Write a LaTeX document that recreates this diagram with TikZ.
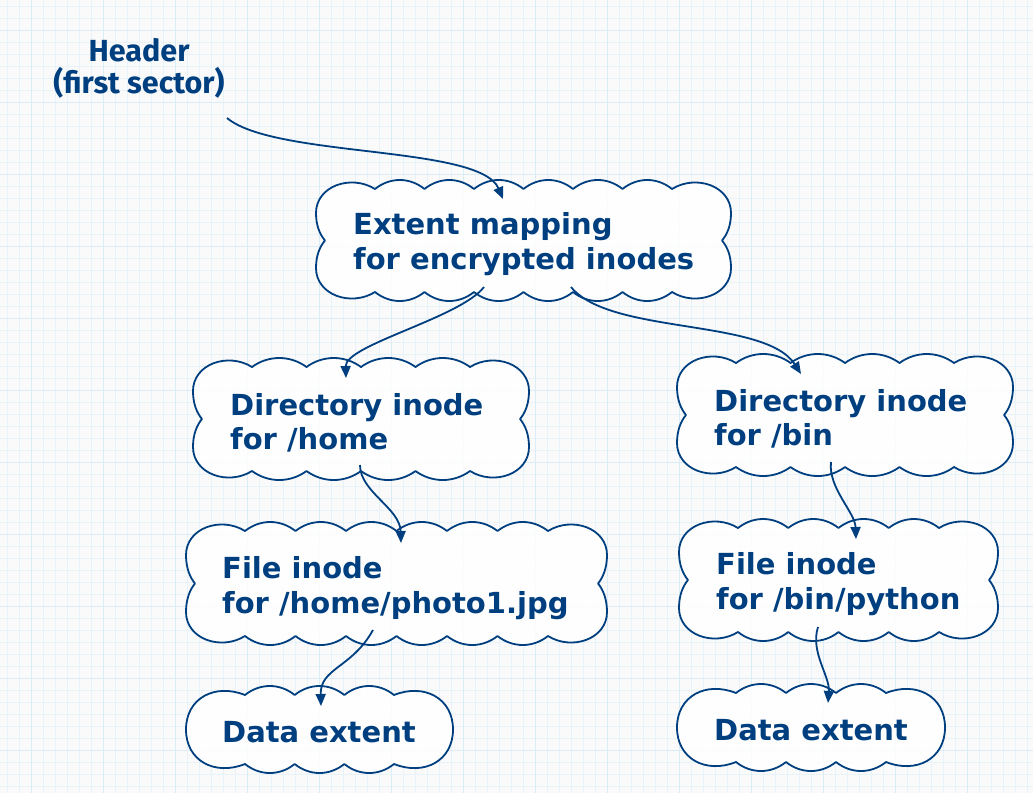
\documentclass[tikz,border=0pt]{standalone}
\usepackage{fontspec}
\newfontfamily\boxfont{DejaVu Sans}
\newfontfamily\headfont{Fira Sans}
\usetikzlibrary{arrows.meta}
\definecolor{ink}{HTML}{003F7F}
\definecolor{bgc}{HTML}{FAFAFA}
\definecolor{gridminor}{HTML}{E8F3F9}
\definecolor{gridmajor}{HTML}{DAEDF6}
\tikzset{
  cloudline/.style={draw=ink, line width=1.8pt, fill=white, fill opacity=0.85, line join=round},
  boxtext/.style={font=\boxfont\bfseries\fontsize{29}{34.5}\selectfont, text=ink, align=left, inner sep=0pt, anchor=west},
  headtext/.style={font=\headfont\bfseries\fontsize{30.5}{32}\selectfont, text=ink, align=center, inner sep=0pt},
  conn/.style={draw=ink, line width=1.8pt, -{Triangle[length=12pt,width=10pt]}}
}
\newcommand\cloudshape[5]{%
  \pgfmathsetmacro\cL{#1}\pgfmathsetmacro\cT{#2}%
  \pgfmathsetmacro\cR{#3}\pgfmathsetmacro\cB{#4}%
  \pgfmathsetmacro\cW{59}%
  \pgfmathsetmacro\cS{(\cR-\cL-2*\cW)/#5}%
  \pgfmathsetmacro\cM{(\cT+\cB)/2}%
  \pgfmathsetmacro\cH{\cB-\cT}%
  \ifdim\cH pt>100pt
  \path[cloudline] ({\cL+\cW},{\cT+9})
    \foreach \i in {1,...,#5} { .. controls ({\cL+\cW+(\i-0.7)*\cS},{\cT-3}) and ({\cL+\cW+(\i-0.3)*\cS},{\cT-3}) .. ({\cL+\cW+\i*\cS},{\cT+9}) }
    .. controls ({\cR-\cW+24},{\cT-6}) and ({\cR},{\cT+6}) .. ({\cR},{\cT+33})
    .. controls ({\cR},{\cT+46}) and ({\cR-4},{\cM-6}) .. ({\cR-9},{\cM})
    .. controls ({\cR-4},{\cM+6}) and ({\cR},{\cB-46}) .. ({\cR},{\cB-33})
    .. controls ({\cR},{\cB-6}) and ({\cR-\cW+24},{\cB+6}) .. ({\cR-\cW},{\cB-9})
    \foreach \i in {1,...,#5} { .. controls ({\cR-\cW-(\i-0.7)*\cS},{\cB+3}) and ({\cR-\cW-(\i-0.3)*\cS},{\cB+3}) .. ({\cR-\cW-\i*\cS},{\cB-9}) }
    .. controls ({\cL+\cW-24},{\cB+6}) and ({\cL},{\cB-6}) .. ({\cL},{\cB-33})
    .. controls ({\cL},{\cB-46}) and ({\cL+4},{\cM+6}) .. ({\cL+9},{\cM})
    .. controls ({\cL+4},{\cM-6}) and ({\cL},{\cT+46}) .. ({\cL},{\cT+33})
    .. controls ({\cL},{\cT+6}) and ({\cL+\cW-24},{\cT-6}) .. cycle;
  \else
  \path[cloudline] ({\cL+\cW},{\cT+9})
    \foreach \i in {1,...,#5} { .. controls ({\cL+\cW+(\i-0.7)*\cS},{\cT-3}) and ({\cL+\cW+(\i-0.3)*\cS},{\cT-3}) .. ({\cL+\cW+\i*\cS},{\cT+9}) }
    .. controls ({\cR-\cW+30},{\cT-3}) and ({\cR},{\cT+12}) .. ({\cR},{\cM})
    .. controls ({\cR},{\cB-12}) and ({\cR-\cW+30},{\cB+3}) .. ({\cR-\cW},{\cB-9})
    \foreach \i in {1,...,#5} { .. controls ({\cR-\cW-(\i-0.7)*\cS},{\cB+3}) and ({\cR-\cW-(\i-0.3)*\cS},{\cB+3}) .. ({\cR-\cW-\i*\cS},{\cB-9}) }
    .. controls ({\cL+\cW-30},{\cB+3}) and ({\cL},{\cB-12}) .. ({\cL},{\cM})
    .. controls ({\cL},{\cT+12}) and ({\cL+\cW-30},{\cT-3}) .. cycle;
  \fi
}
\begin{document}
\begin{tikzpicture}[x=1pt,y=-1pt]
\useasboundingbox (0,0) rectangle (1033,793);
\fill[bgc] (0,0) rectangle (1033,793);
\foreach \x in {7,19,...,1033} \draw[gridminor, line width=0.7pt] (\x,0) -- (\x,793);
\foreach \y in {6,18,...,793} \draw[gridminor, line width=0.7pt] (0,\y) -- (1033,\y);
\foreach \x in {31,103,...,1033} \draw[gridmajor, line width=1pt] (\x,0) -- (\x,793);
\foreach \y in {30,102,...,793} \draw[gridmajor, line width=1pt] (0,\y) -- (1033,\y);

% clouds
\cloudshape{316}{180}{731}{301}{6}
\cloudshape{193}{358}{529}{480}{4}
\cloudshape{677}{354}{1013}{476}{4}
\cloudshape{186}{522}{607}{645}{6}
\cloudshape{679}{519}{998}{641}{4}
\cloudshape{186}{686}{453}{773}{3}
\cloudshape{677}{684}{945}{771}{3}

% texts
\node[headtext] (hdr) at (139,68) {Header\\(first sector)};
\node[boxtext] (ext) at (353,244) {Extent mapping\\for encrypted inodes};
\node[boxtext] (home) at (230,423) {Directory inode\\for /home};
\node[boxtext] (bin) at (714,419) {Directory inode\\for /bin};
\node[boxtext] (photo) at (222,588) {File inode\\for /home/photo1.jpg};
\node[boxtext] (python) at (716,584) {File inode\\for /bin/python};
\node[boxtext] (data1) at (222,732) {Data extent};
\node[boxtext] (data2) at (714,730) {Data extent};

% connector ends
\coordinate (hdrOut) at (227,118);
\coordinate (extIn) at (503,199);
\coordinate (extOutL) at (484,287);
\coordinate (homeIn) at (346,378);
\coordinate (extOutR) at (571,287);
\coordinate (binIn) at (801,374);
\coordinate (homeOut) at (360,465);
\coordinate (photoIn) at (401,543);
\coordinate (binOut) at (831,462);
\coordinate (pythonIn) at (856,539);
\coordinate (photoOut) at (373,630);
\coordinate (data1In) at (321,706);
\coordinate (pythonOut) at (818,627);
\coordinate (data2In) at (828,703);

\draw[conn] (hdrOut) .. controls (275,158) and (480,145) .. (extIn);
\draw[conn] (extOutL) .. controls (460,318) and (345,345) .. (homeIn);
\draw[conn] (extOutR) .. controls (610,335) and (765,318) .. (binIn);
\draw[conn] (homeOut) .. controls (360,492) and (400,508) .. (photoIn);
\draw[conn] (binOut) .. controls (828,488) and (855,512) .. (pythonIn);
\draw[conn] (photoOut) .. controls (352,668) and (320,668) .. (data1In);
\draw[conn] (pythonOut) .. controls (810,652) and (830,676) .. (data2In);
\end{tikzpicture}
\end{document}
